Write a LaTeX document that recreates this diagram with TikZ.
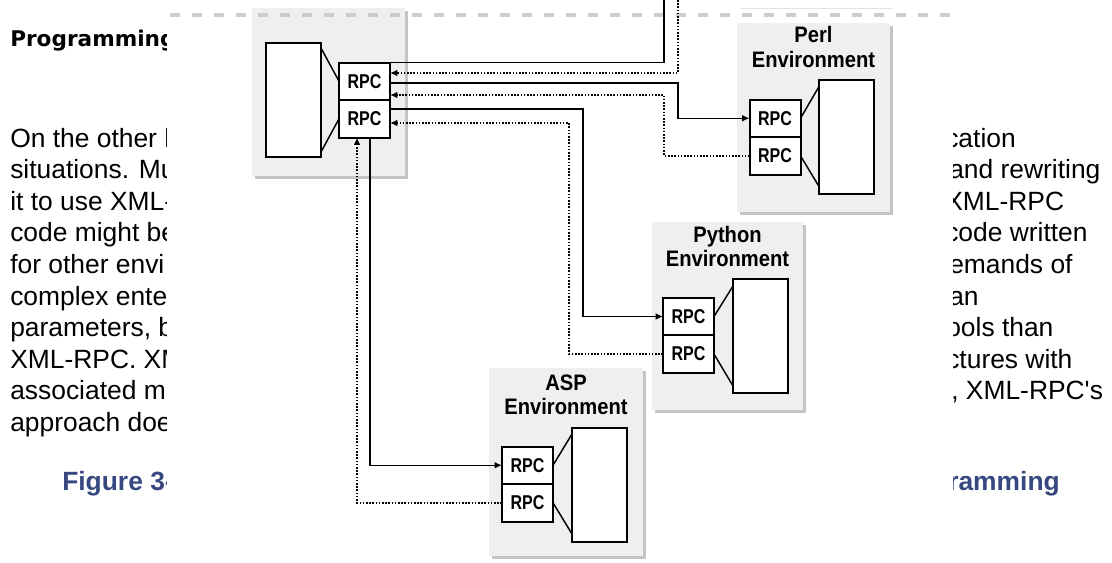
\documentclass[tikz,border=0pt]{standalone}
\usepackage{fontspec}
\setmainfont{Liberation Sans}
\newfontfamily\headfont{DejaVu Sans}
\newfontfamily\figfont{Liberation Sans}[FakeStretch=0.9]
\newfontfamily\rpcfont{Liberation Sans}[FakeStretch=0.8]
\usetikzlibrary{arrows.meta,calc}
\definecolor{envgray}{RGB}{239,239,239}
\definecolor{shadegray}{RGB}{196,196,196}
\definecolor{rulegray}{RGB}{205,205,205}
\definecolor{capblue}{RGB}{55,71,128}
\tikzset{
	envbox/.style={fill=envgray},
	envshade/.style={fill=shadegray},
	rpcbox/.style={draw, line width=1.5pt, fill=white, outer sep=0pt, inner sep=0pt,
		minimum width=38.25pt, minimum height=28.125pt,
		font={\rpcfont\bfseries\fontsize{15pt}{15pt}\selectfont}},
	appbox/.style={draw, line width=1.5pt, fill=white, outer sep=0pt, inner sep=0pt,
		minimum width=41.25pt, minimum height=85.5pt},
	envlabel/.style={anchor=base, inner sep=0pt,
		font={\figfont\bfseries\fontsize{16.8pt}{17pt}\selectfont}},
	link/.style={line width=1.1pt},
	call/.style={line width=1.1pt, -{Latex[length=5.5pt,width=5pt]}},
	reply/.style={line width=1.2pt, dash pattern=on 1.2pt off 1.2pt, -{Latex[length=5.5pt,width=5pt]}},
	headtext/.style={anchor=base west, inner sep=0pt, font={\headfont\bfseries\fontsize{16.2pt}{18pt}\selectfont}},
	pagetext/.style={anchor=base west, inner sep=0pt, font={\fontsize{19.8pt}{23pt}\selectfont}},
	captext/.style={anchor=base west, inner sep=0pt, text=capblue, font={\bfseries\fontsize{19.8pt}{23pt}\selectfont}}
}
\begin{document}
\begin{tikzpicture}[x=0.75pt,y=0.75pt,yscale=-1,xscale=1]
\useasboundingbox (0,0) rectangle (1112,562);

% page text, left of the figure
\begin{scope}
\clip (0,0) rectangle (166,562);
\node[headtext] (head) at (10,46) {Programming};
\node[pagetext] (l1) at (10,147) {On the other h};
\node[pagetext] (l2) at (10,178.6) {situations. Mu};
\node[pagetext] (l3) at (10,210.2) {it to use XML-};
\node[pagetext] (l4) at (10,241.8) {code might be};
\node[pagetext] (l5) at (10,273.4) {for other envi};
\node[pagetext] (l6) at (10,305) {complex ente};
\node[pagetext] (l7) at (10,336.6) {parameters, b};
\node[pagetext] (l8) at (10,368.2) {XML-RPC. XM};
\node[pagetext] (l9) at (10,399.8) {associated m};
\node[pagetext] (l10) at (10,431.4) {approach doe};
\node[captext] (capl) at (62,490) {Figure 3-};
\end{scope}

% page text, right of the figure
\begin{scope}
\clip (953,0) rectangle (1112,562);
\node[pagetext] (r1) at (945,147) {cation};
\node[pagetext] (r2) at (949,178.6) {and rewriting};
\node[pagetext] (r3) at (945,210.2) {XML-RPC};
\node[pagetext] (r4) at (945,241.8) {code written};
\node[pagetext] (r5) at (949,273.4) {emands of};
\node[pagetext] (r6) at (949,305) {an};
\node[pagetext] (r7) at (946,336.6) {ools than};
\node[pagetext] (r8) at (946,368.2) {ctures with};
\node[pagetext] (r9) at (951,399.8) {, XML-RPC\textquotesingle s};
\node[captext] (capr) at (948,490) {ramming};
\end{scope}

% environments
\fill[envshade] (255,11) rectangle (408,179);
\fill[envbox] (252,8) rectangle (405,176);
\fill[envshade] (740,26) rectangle (893,215);
\fill[envbox] (737,23) rectangle (890,212);
\fill[envshade] (655,225) rectangle (806,413);
\fill[envbox] (652,222) rectangle (803,410);
\fill[envshade] (492,371) rectangle (646,559);
\fill[envbox] (489,368) rectangle (643,556);

\draw[rulegray, line width=2.4pt, dash pattern=on 7.5pt off 9pt] (170,15) -- (957,15);
\draw[color={rgb,255:red,228;green,228;blue,228}, line width=0.6pt] (740,8) -- (893,8);

% host
\node[appbox] (hostapp) at (293.5,100) {};
\node[rpcbox] (hostrpcA) at (364.5,81.25) {RPC};
\node[rpcbox] (hostrpcB) at (364.5,118.75) {RPC};

% perl
\node[envlabel] (perltitle) at (813.5,42) {Perl};
\node[envlabel] (perlsub) at (813.5,67) {Environment};
\node[rpcbox] (perlrpcA) at (775,118.25) {RPC};
\node[rpcbox] (perlrpcB) at (775,155.75) {RPC};
\node[appbox] (perlapp) at (846.5,136.5) {};

% python
\node[envlabel] (pytitle) at (727.5,242) {Python};
\node[envlabel] (pysub) at (727.5,266) {Environment};
\node[rpcbox] (pyrpcA) at (688.5,316.5) {RPC};
\node[rpcbox] (pyrpcB) at (688.5,354) {RPC};
\node[appbox] (pyapp) at (760.5,336) {};

% asp
\node[envlabel] (asptitle) at (566,390) {ASP};
\node[envlabel] (aspsub) at (566,414) {Environment};
\node[rpcbox] (asprpcA) at (527.5,465.25) {RPC};
\node[rpcbox] (asprpcB) at (527.5,502.75) {RPC};
\node[appbox] (aspapp) at (599.5,485) {};

\draw[link] ($(hostapp.north east)+(0,5)$) -- (hostrpcA.west);
\draw[link] ($(hostapp.south east)+(0,-5)$) -- (hostrpcB.west);
\draw[link] (perlrpcA.east) -- ($(perlapp.north west)+(0,7)$);
\draw[link] (perlrpcB.east) -- ($(perlapp.south west)+(0,-7)$);
\draw[link] (pyrpcA.east) -- ($(pyapp.north west)+(0,7)$);
\draw[link] (pyrpcB.east) -- ($(pyapp.south west)+(0,-7)$);
\draw[link] (asprpcA.east) -- ($(aspapp.north west)+(0,6)$);
\draw[link] (asprpcB.east) -- ($(aspapp.south west)+(0,-8)$);

% ports and bends
\coordinate (hp1) at ($(hostrpcA.east)+(0,-8.25)$);
\coordinate (hp2) at ($(hostrpcA.east)+(0,1.75)$);
\coordinate (hp3) at ($(hostrpcA.east)+(0,13.75)$);
\coordinate (hp4) at ($(hostrpcB.east)+(0,-9.75)$);
\coordinate (hp5) at ($(hostrpcB.east)+(0,4.25)$);
\coordinate (hp6) at ($(hostrpcB.south)+(-7.5,0)$);
\coordinate (hp7) at ($(hostrpcB.south)+(5.5,0)$);
\coordinate (colA) at (664,0);
\coordinate (colB) at (678,0);
\coordinate (colC) at (583,0);
\coordinate (colD) at (569,0);

\draw[link] (hostrpcA.north east) -| (colA);
\draw[reply] (colB) |- (hp1);
\draw[call] (hp2) -| (colB |- perlrpcA.west) -- (perlrpcA.west);
\draw[reply] (perlrpcB.west) -| (colA |- hp3) -- (hp3);
\draw[call] (hp4) -| (colC |- pyrpcA.west) -- (pyrpcA.west);
\draw[reply] (pyrpcB.west) -| (colD |- hp5) -- (hp5);
\draw[call] (hp7) |- (asprpcA.west);
\draw[reply] (asprpcB.west) -| (hp6);

\end{tikzpicture}
\end{document}
